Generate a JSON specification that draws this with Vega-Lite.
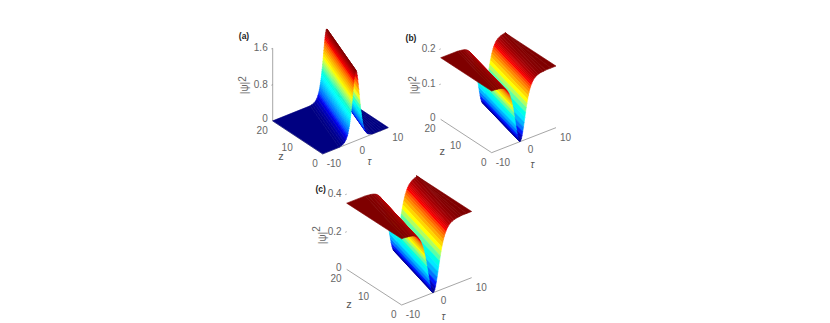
{
"$schema":"https://vega.github.io/schema/vega-lite/v6.json",
"width":830,"height":323,"padding":0,
"autosize":{"type":"fit","contains":"padding"},
"background":"white",
"config":{"view":{"stroke":null}},
"params":[{"name":"P","value":{
"a":{"ox":322.7,"oy":154,"tx":3.28,"ty":-1.315,"zx":-2.5,"zy":-1.65,"pz":45.4,"drift":6.4,"max":1.55},
"b":{"ox":491.67,"oy":152.67,"tx":3.217,"ty":-1.25,"zx":-2.55,"zy":-1.667,"pz":352,"drift":4.3,"max":0.175},
"c":{"ox":401.67,"oy":305,"tx":3.5,"ty":-1.367,"zx":-2.75,"zy":-1.783,"pz":188,"drift":4.6,"max":0.352}}}],
"datasets":{
"axes":[
{"panel":"a","t0":-10,"z0":0,"p0":0,"t1":10,"z1":0,"p1":0},
{"panel":"a","t0":-10,"z0":0,"p0":0,"t1":-10,"z1":20,"p1":0},
{"panel":"a","t0":-10,"z0":20,"p0":0,"t1":-10,"z1":20,"p1":1.6},
{"panel":"a","t0":-10,"z0":20,"p0":0.8,"t1":-10.4,"z1":20,"p1":0.8},
{"panel":"a","t0":-10,"z0":20,"p0":1.6,"t1":-10.4,"z1":20,"p1":1.6},
{"panel":"b","t0":-10,"z0":0,"p0":0,"t1":10,"z1":0,"p1":0},
{"panel":"b","t0":-10,"z0":0,"p0":0,"t1":-10,"z1":20,"p1":0},
{"panel":"b","t0":-10,"z0":20,"p0":0.1,"t1":-10.4,"z1":20,"p1":0.1},
{"panel":"b","t0":-10,"z0":20,"p0":0.2,"t1":-10.4,"z1":20,"p1":0.2},
{"panel":"c","t0":-10,"z0":0,"p0":0,"t1":10,"z1":0,"p1":0},
{"panel":"c","t0":-10,"z0":0,"p0":0,"t1":-10,"z1":20,"p1":0},
{"panel":"c","t0":-10,"z0":20,"p0":0.2,"t1":-10.4,"z1":20,"p1":0.2},
{"panel":"c","t0":-10,"z0":20,"p0":0.4,"t1":-10.4,"z1":20,"p1":0.4}
],
"surface":[
{"panel":"a","tau":10,"psi":0.003},{"panel":"a","tau":9.2,"psi":0.003},{"panel":"a","tau":8.4,"psi":0.003},{"panel":"a","tau":7.6,"psi":0.003},{"panel":"a","tau":6.8,"psi":0.003},{"panel":"a","tau":6,"psi":0.003},{"panel":"a","tau":5.2,"psi":0.003},
{"panel":"a","tau":4.6,"psi":0.015},{"panel":"a","tau":4,"psi":0.034},{"panel":"a","tau":3.55,"psi":0.061},{"panel":"a","tau":3.1,"psi":0.11},{"panel":"a","tau":2.8,"psi":0.161},{"panel":"a","tau":2.5,"psi":0.234},{"panel":"a","tau":2.2,"psi":0.335},{"panel":"a","tau":2.05,"psi":0.398},{"panel":"a","tau":1.9,"psi":0.473},{"panel":"a","tau":1.75,"psi":0.556},{"panel":"a","tau":1.6,"psi":0.651},{"panel":"a","tau":1.45,"psi":0.753},{"panel":"a","tau":1.3,"psi":0.866},{"panel":"a","tau":1.15,"psi":0.984},{"panel":"a","tau":1,"psi":1.104},{"panel":"a","tau":0.85,"psi":1.218},{"panel":"a","tau":0.7,"psi":1.327},{"panel":"a","tau":0.55,"psi":1.418},{"panel":"a","tau":0.4,"psi":1.49},{"panel":"a","tau":0.25,"psi":1.535},{"panel":"a","tau":0.1,"psi":1.55},
{"panel":"a","tau":0.025,"psi":1.546},{"panel":"a","tau":-0.05,"psi":1.535},{"panel":"a","tau":-0.125,"psi":1.516},{"panel":"a","tau":-0.2,"psi":1.49},{"panel":"a","tau":-0.275,"psi":1.455},{"panel":"a","tau":-0.35,"psi":1.418},{"panel":"a","tau":-0.425,"psi":1.375},{"panel":"a","tau":-0.5,"psi":1.327},{"panel":"a","tau":-0.575,"psi":1.274},{"panel":"a","tau":-0.65,"psi":1.218},{"panel":"a","tau":-0.725,"psi":1.161},{"panel":"a","tau":-0.8,"psi":1.104},{"panel":"a","tau":-0.875,"psi":1.045},{"panel":"a","tau":-0.95,"psi":0.984},{"panel":"a","tau":-1.025,"psi":0.925},{"panel":"a","tau":-1.1,"psi":0.866},{"panel":"a","tau":-1.175,"psi":0.809},{"panel":"a","tau":-1.25,"psi":0.753},{"panel":"a","tau":-1.325,"psi":0.7},{"panel":"a","tau":-1.4,"psi":0.651},{"panel":"a","tau":-1.475,"psi":0.603},{"panel":"a","tau":-1.55,"psi":0.556},{"panel":"a","tau":-1.625,"psi":0.513},{"panel":"a","tau":-1.7,"psi":0.473},{"panel":"a","tau":-1.775,"psi":0.434},{"panel":"a","tau":-1.85,"psi":0.398},{"panel":"a","tau":-1.925,"psi":0.366},{"panel":"a","tau":-2,"psi":0.335},{"panel":"a","tau":-2.15,"psi":0.281},{"panel":"a","tau":-2.3,"psi":0.234},{"panel":"a","tau":-2.45,"psi":0.194},{"panel":"a","tau":-2.6,"psi":0.161},{"panel":"a","tau":-2.9,"psi":0.11},{"panel":"a","tau":-3.35,"psi":0.061},{"panel":"a","tau":-3.8,"psi":0.034},{"panel":"a","tau":-4.4,"psi":0.015},
{"panel":"a","tau":-5,"psi":0.003},{"panel":"a","tau":-16.4,"psi":0.003},

{"panel":"b","tau":10,"psi":0.175},{"panel":"b","tau":8.4,"psi":0.175},{"panel":"b","tau":6.8,"psi":0.175},{"panel":"b","tau":6,"psi":0.174},{"panel":"b","tau":5.2,"psi":0.1733},{"panel":"b","tau":4.5,"psi":0.1716},{"panel":"b","tau":3.96,"psi":0.1693},{"panel":"b","tau":3.53,"psi":0.1665},{"panel":"b","tau":3.1,"psi":0.1626},{"panel":"b","tau":2.885,"psi":0.16},{"panel":"b","tau":2.67,"psi":0.1568},{"panel":"b","tau":2.455,"psi":0.1531},{"panel":"b","tau":2.24,"psi":0.1486},{"panel":"b","tau":2.025,"psi":0.1433},{"panel":"b","tau":1.81,"psi":0.1372},{"panel":"b","tau":1.595,"psi":0.13},{"panel":"b","tau":1.38,"psi":0.1216},{"panel":"b","tau":1.165,"psi":0.1122},{"panel":"b","tau":0.95,"psi":0.1015},{"panel":"b","tau":0.735,"psi":0.09},{"panel":"b","tau":0.52,"psi":0.0772},{"panel":"b","tau":0.305,"psi":0.0639},{"panel":"b","tau":0.09,"psi":0.0504},{"panel":"b","tau":-0.125,"psi":0.0375},{"panel":"b","tau":-0.34,"psi":0.0252},{"panel":"b","tau":-0.555,"psi":0.0149},{"panel":"b","tau":-0.77,"psi":0.0068},{"panel":"b","tau":-0.985,"psi":0.0018},{"panel":"b","tau":-1.2,"psi":0},
{"panel":"b","tau":-1.415,"psi":0.0018},{"panel":"b","tau":-1.63,"psi":0.0068},{"panel":"b","tau":-1.845,"psi":0.0149},{"panel":"b","tau":-2.06,"psi":0.0252},{"panel":"b","tau":-2.275,"psi":0.0375},{"panel":"b","tau":-2.49,"psi":0.0504},{"panel":"b","tau":-2.705,"psi":0.0639},{"panel":"b","tau":-2.92,"psi":0.0772},{"panel":"b","tau":-3.135,"psi":0.09},{"panel":"b","tau":-3.35,"psi":0.1015},{"panel":"b","tau":-3.565,"psi":0.1122},{"panel":"b","tau":-3.78,"psi":0.1216},{"panel":"b","tau":-3.995,"psi":0.13},{"panel":"b","tau":-4.21,"psi":0.1372},{"panel":"b","tau":-4.425,"psi":0.1433},{"panel":"b","tau":-4.64,"psi":0.1486},{"panel":"b","tau":-5.07,"psi":0.1568},{"panel":"b","tau":-5.5,"psi":0.1626},{"panel":"b","tau":-5.93,"psi":0.1665},{"panel":"b","tau":-6.36,"psi":0.1693},{"panel":"b","tau":-6.9,"psi":0.1716},{"panel":"b","tau":-7.65,"psi":0.1733},{"panel":"b","tau":-8.4,"psi":0.174},{"panel":"b","tau":-9.1,"psi":0.175},{"panel":"b","tau":-14.3,"psi":0.175},

{"panel":"c","tau":10,"psi":0.352},{"panel":"c","tau":8.6,"psi":0.352},{"panel":"c","tau":7.2,"psi":0.352},{"panel":"c","tau":6.54,"psi":0.3502},{"panel":"c","tau":5.75,"psi":0.3485},{"panel":"c","tau":4.96,"psi":0.345},{"panel":"c","tau":4.4,"psi":0.3406},{"panel":"c","tau":3.95,"psi":0.3351},{"panel":"c","tau":3.5,"psi":0.327},{"panel":"c","tau":3.275,"psi":0.3217},{"panel":"c","tau":3.05,"psi":0.3154},{"panel":"c","tau":2.825,"psi":0.308},{"panel":"c","tau":2.6,"psi":0.2988},{"panel":"c","tau":2.375,"psi":0.2883},{"panel":"c","tau":2.15,"psi":0.276},{"panel":"c","tau":1.925,"psi":0.2615},{"panel":"c","tau":1.7,"psi":0.2446},{"panel":"c","tau":1.475,"psi":0.2256},{"panel":"c","tau":1.25,"psi":0.2042},{"panel":"c","tau":1.025,"psi":0.1809},{"panel":"c","tau":0.8,"psi":0.1552},{"panel":"c","tau":0.575,"psi":0.1285},{"panel":"c","tau":0.35,"psi":0.1014},{"panel":"c","tau":0.125,"psi":0.0753},{"panel":"c","tau":-0.1,"psi":0.0507},{"panel":"c","tau":-0.325,"psi":0.0299},{"panel":"c","tau":-0.55,"psi":0.0137},{"panel":"c","tau":-0.775,"psi":0.0035},{"panel":"c","tau":-1,"psi":0},
{"panel":"c","tau":-1.225,"psi":0.0035},{"panel":"c","tau":-1.45,"psi":0.0137},{"panel":"c","tau":-1.675,"psi":0.0299},{"panel":"c","tau":-1.9,"psi":0.0507},{"panel":"c","tau":-2.125,"psi":0.0753},{"panel":"c","tau":-2.35,"psi":0.1014},{"panel":"c","tau":-2.575,"psi":0.1285},{"panel":"c","tau":-2.8,"psi":0.1552},{"panel":"c","tau":-3.025,"psi":0.1809},{"panel":"c","tau":-3.25,"psi":0.2042},{"panel":"c","tau":-3.475,"psi":0.2256},{"panel":"c","tau":-3.7,"psi":0.2446},{"panel":"c","tau":-3.925,"psi":0.2615},{"panel":"c","tau":-4.15,"psi":0.276},{"panel":"c","tau":-4.375,"psi":0.2883},{"panel":"c","tau":-4.6,"psi":0.2988},{"panel":"c","tau":-4.825,"psi":0.308},{"panel":"c","tau":-5.05,"psi":0.3154},{"panel":"c","tau":-5.275,"psi":0.3217},{"panel":"c","tau":-5.5,"psi":0.327},{"panel":"c","tau":-5.95,"psi":0.3351},{"panel":"c","tau":-6.4,"psi":0.3406},{"panel":"c","tau":-6.96,"psi":0.345},{"panel":"c","tau":-7.75,"psi":0.3485},{"panel":"c","tau":-8.54,"psi":0.3502},{"panel":"c","tau":-9.3,"psi":0.352},{"panel":"c","tau":-14.6,"psi":0.352}
],
"ticks":[
{"panel":"a","axis":"psi","tau":-10,"z":20,"psi":0.05,"label":"0"},{"panel":"a","axis":"psi","tau":-10,"z":20,"psi":0.8,"label":"0.8"},{"panel":"a","axis":"psi","tau":-10,"z":20,"psi":1.6,"label":"1.6"},
{"panel":"a","axis":"z","tau":-10,"z":0,"psi":0,"label":"0"},{"panel":"a","axis":"z","tau":-10,"z":10,"psi":0,"label":"10"},{"panel":"a","axis":"z","tau":-10,"z":20,"psi":0,"label":"20"},
{"panel":"a","axis":"tau","tau":-10,"z":0,"psi":0,"label":"-10"},{"panel":"a","axis":"tau","tau":0,"z":0,"psi":0,"label":"0"},{"panel":"a","axis":"tau","tau":10,"z":0,"psi":0,"label":"10"},
{"panel":"b","axis":"psi","tau":-10,"z":20,"psi":0.004,"label":"0"},{"panel":"b","axis":"psi","tau":-10,"z":20,"psi":0.1,"label":"0.1"},{"panel":"b","axis":"psi","tau":-10,"z":20,"psi":0.2,"label":"0.2"},
{"panel":"b","axis":"z","tau":-10,"z":0,"psi":0,"label":"0"},{"panel":"b","axis":"z","tau":-10,"z":10,"psi":0,"label":"10"},{"panel":"b","axis":"z","tau":-10,"z":20,"psi":0,"label":"20"},
{"panel":"b","axis":"tau","tau":-10,"z":0,"psi":0,"label":"-10"},{"panel":"b","axis":"tau","tau":0,"z":0,"psi":0,"label":"0"},{"panel":"b","axis":"tau","tau":10,"z":0,"psi":0,"label":"10"},
{"panel":"c","axis":"psi","tau":-10,"z":20,"psi":0.008,"label":"0"},{"panel":"c","axis":"psi","tau":-10,"z":20,"psi":0.2,"label":"0.2"},{"panel":"c","axis":"psi","tau":-10,"z":20,"psi":0.4,"label":"0.4"},
{"panel":"c","axis":"z","tau":-10,"z":0,"psi":0,"label":"0"},{"panel":"c","axis":"z","tau":-10,"z":10,"psi":0,"label":"10"},{"panel":"c","axis":"z","tau":-10,"z":20,"psi":0,"label":"20"},
{"panel":"c","axis":"tau","tau":-10,"z":0,"psi":0,"label":"-10"},{"panel":"c","axis":"tau","tau":0,"z":0,"psi":0,"label":"0"},{"panel":"c","axis":"tau","tau":10,"z":0,"psi":0,"label":"10"}
],
"titles":[
{"panel":"a","kind":"z","tau":-18.69,"z":5.29,"psi":0,"label":"z"},{"panel":"b","kind":"z","tau":-19.32,"z":7.58,"psi":0,"label":"z"},{"panel":"c","kind":"z","tau":-19.39,"z":7.2,"psi":0,"label":"z"},
{"panel":"a","kind":"tau","tau":-3.37,"z":-9.95,"psi":0,"label":"τ"},{"panel":"b","kind":"tau","tau":-5.75,"z":-10.57,"psi":0,"label":"τ"},{"panel":"c","kind":"tau","tau":-5.78,"z":-9.78,"psi":0,"label":"τ"},
{"panel":"a","kind":"bold","tau":-18.75,"z":20,"psi":2.13,"label":"(a)"},{"panel":"b","kind":"bold","tau":-19.22,"z":20,"psi":0.2645,"label":"(b)"},{"panel":"c","kind":"bold","tau":-17.43,"z":20,"psi":0.48,"label":"(c)"},
{"panel":"a","kind":"rot","tau":-18.54,"z":20,"psi":0.974,"label":"|ψ|"},{"panel":"a","kind":"rot","tau":-19.15,"z":20,"psi":1.19,"label":"2"},
{"panel":"b","kind":"rot","tau":-17.98,"z":20,"psi":0.1173,"label":"|ψ|"},{"panel":"b","kind":"rot","tau":-18.6,"z":20,"psi":0.145,"label":"2"},
{"panel":"c","kind":"rot","tau":-16.76,"z":20,"psi":0.2157,"label":"|ψ|"},{"panel":"c","kind":"rot","tau":-18.48,"z":20,"psi":0.276,"label":"2"}
]
},
"layer":[
{"data":{"name":"axes"},
"transform":[
{"calculate":"P[datum.panel].ox+P[datum.panel].tx*(datum.t0+10)+P[datum.panel].zx*datum.z0","as":"sx0"},
{"calculate":"P[datum.panel].oy+P[datum.panel].ty*(datum.t0+10)+P[datum.panel].zy*datum.z0-P[datum.panel].pz*datum.p0","as":"sy0"},
{"calculate":"P[datum.panel].ox+P[datum.panel].tx*(datum.t1+10)+P[datum.panel].zx*datum.z1","as":"sx1"},
{"calculate":"P[datum.panel].oy+P[datum.panel].ty*(datum.t1+10)+P[datum.panel].zy*datum.z1-P[datum.panel].pz*datum.p1","as":"sy1"}],
"mark":{"type":"rule","color":"#808080","strokeWidth":0.7},
"encoding":{
"x":{"field":"sx0","type":"quantitative","scale":{"domain":[0,830],"nice":false,"zero":false},"axis":null},
"y":{"field":"sy0","type":"quantitative","scale":{"domain":[323,0],"nice":false,"zero":false},"axis":null},
"x2":{"field":"sx1"},"y2":{"field":"sy1"}}},
{"data":{"name":"surface"},
"transform":[
{"window":[{"op":"lag","field":"tau","as":"ptau"},{"op":"lag","field":"psi","as":"ppsi"},{"op":"row_number","as":"rn"}],"groupby":["panel"]},
{"filter":"isValid(datum.ptau)"},
{"calculate":"datum.panel+datum.rn","as":"quad"},
{"calculate":"(datum.psi+datum.ppsi)/2/P[datum.panel].max","as":"level"},
{"calculate":"[0,1,2,3]","as":"corner"},
{"flatten":["corner"]},
{"calculate":"datum.corner<=1?datum.tau:datum.ptau","as":"qt"},
{"calculate":"datum.corner<=1?datum.psi:datum.ppsi","as":"qp"},
{"calculate":"(datum.corner==0||datum.corner==3)?0:20","as":"qz"},
{"calculate":"clamp(datum.qz==0?datum.qt:datum.qt+P[datum.panel].drift,-10,10)","as":"qtau"},
{"calculate":"P[datum.panel].ox+P[datum.panel].tx*(datum.qtau+10)+P[datum.panel].zx*datum.qz","as":"sx"},
{"calculate":"P[datum.panel].oy+P[datum.panel].ty*(datum.qtau+10)+P[datum.panel].zy*datum.qz-P[datum.panel].pz*datum.qp","as":"sy"}],
"mark":{"type":"line","interpolate":"linear-closed","filled":true,"strokeWidth":0.6,"strokeJoin":"round"},
"encoding":{
"x":{"field":"sx","type":"quantitative","axis":null},
"y":{"field":"sy","type":"quantitative","axis":null},
"detail":{"field":"quad"},
"order":{"field":"corner","type":"quantitative"},
"fill":{"field":"level","type":"quantitative","legend":null,"scale":{"domain":[0,0.11,0.36,0.61,0.86,1],"range":["#00007f","#0000ff","#00ffff","#ffff00","#ff0000","#7f0000"]}},
"stroke":{"field":"level","type":"quantitative","legend":null,"scale":{"domain":[0,0.11,0.36,0.61,0.86,1],"range":["#00007f","#0000ff","#00ffff","#ffff00","#ff0000","#7f0000"]}}}},
{"data":{"name":"ticks"},
"transform":[{"filter":"datum.axis=='psi'"},
{"calculate":"P[datum.panel].ox+P[datum.panel].tx*(datum.tau+10)+P[datum.panel].zx*datum.z","as":"sx"},
{"calculate":"P[datum.panel].oy+P[datum.panel].ty*(datum.tau+10)+P[datum.panel].zy*datum.z-P[datum.panel].pz*datum.psi","as":"sy"}],
"mark":{"type":"text","font":"Liberation Sans","fontSize":10,"color":"#666666","align":"right","baseline":"middle","dx":-5},
"encoding":{"x":{"field":"sx","type":"quantitative","axis":null},"y":{"field":"sy","type":"quantitative","axis":null},"text":{"field":"label"}}},
{"data":{"name":"ticks"},
"transform":[{"filter":"datum.axis=='z'"},
{"calculate":"P[datum.panel].ox+P[datum.panel].tx*(datum.tau+10)+P[datum.panel].zx*datum.z","as":"sx"},
{"calculate":"P[datum.panel].oy+P[datum.panel].ty*(datum.tau+10)+P[datum.panel].zy*datum.z-P[datum.panel].pz*datum.psi","as":"sy"}],
"mark":{"type":"text","font":"Liberation Sans","fontSize":10,"color":"#666666","align":"right","baseline":"middle","dx":-5,"dy":10},
"encoding":{"x":{"field":"sx","type":"quantitative","axis":null},"y":{"field":"sy","type":"quantitative","axis":null},"text":{"field":"label"}}},
{"data":{"name":"ticks"},
"transform":[{"filter":"datum.axis=='tau'"},
{"calculate":"P[datum.panel].ox+P[datum.panel].tx*(datum.tau+10)+P[datum.panel].zx*datum.z","as":"sx"},
{"calculate":"P[datum.panel].oy+P[datum.panel].ty*(datum.tau+10)+P[datum.panel].zy*datum.z-P[datum.panel].pz*datum.psi","as":"sy"}],
"mark":{"type":"text","font":"Liberation Sans","fontSize":10,"color":"#666666","align":"left","baseline":"middle","dx":4,"dy":10},
"encoding":{"x":{"field":"sx","type":"quantitative","axis":null},"y":{"field":"sy","type":"quantitative","axis":null},"text":{"field":"label"}}},
{"data":{"name":"titles"},
"transform":[{"filter":"datum.kind=='z'"},
{"calculate":"P[datum.panel].ox+P[datum.panel].tx*(datum.tau+10)+P[datum.panel].zx*datum.z","as":"sx"},
{"calculate":"P[datum.panel].oy+P[datum.panel].ty*(datum.tau+10)+P[datum.panel].zy*datum.z-P[datum.panel].pz*datum.psi","as":"sy"}],
"mark":{"type":"text","font":"Liberation Sans","fontSize":11,"color":"#555555","align":"center","baseline":"middle"},
"encoding":{"x":{"field":"sx","type":"quantitative","axis":null},"y":{"field":"sy","type":"quantitative","axis":null},"text":{"field":"label"}}},
{"data":{"name":"titles"},
"transform":[{"filter":"datum.kind=='tau'"},
{"calculate":"P[datum.panel].ox+P[datum.panel].tx*(datum.tau+10)+P[datum.panel].zx*datum.z","as":"sx"},
{"calculate":"P[datum.panel].oy+P[datum.panel].ty*(datum.tau+10)+P[datum.panel].zy*datum.z-P[datum.panel].pz*datum.psi","as":"sy"}],
"mark":{"type":"text","font":"Liberation Sans","fontSize":10,"fontStyle":"italic","color":"#555555","align":"center","baseline":"middle"},
"encoding":{"x":{"field":"sx","type":"quantitative","axis":null},"y":{"field":"sy","type":"quantitative","axis":null},"text":{"field":"label"}}},
{"data":{"name":"titles"},
"transform":[{"filter":"datum.kind=='bold'"},
{"calculate":"P[datum.panel].ox+P[datum.panel].tx*(datum.tau+10)+P[datum.panel].zx*datum.z","as":"sx"},
{"calculate":"P[datum.panel].oy+P[datum.panel].ty*(datum.tau+10)+P[datum.panel].zy*datum.z-P[datum.panel].pz*datum.psi","as":"sy"}],
"mark":{"type":"text","font":"Liberation Sans","fontSize":8.5,"fontWeight":"bold","color":"#222222","align":"center","baseline":"middle"},
"encoding":{"x":{"field":"sx","type":"quantitative","axis":null},"y":{"field":"sy","type":"quantitative","axis":null},"text":{"field":"label"}}},
{"data":{"name":"titles"},
"transform":[{"filter":"datum.kind=='rot'"},
{"calculate":"P[datum.panel].ox+P[datum.panel].tx*(datum.tau+10)+P[datum.panel].zx*datum.z","as":"sx"},
{"calculate":"P[datum.panel].oy+P[datum.panel].ty*(datum.tau+10)+P[datum.panel].zy*datum.z-P[datum.panel].pz*datum.psi","as":"sy"}],
"mark":{"type":"text","font":"Liberation Sans","fontSize":10,"color":"#666666","align":"center","baseline":"middle","angle":270},
"encoding":{"x":{"field":"sx","type":"quantitative","axis":null},"y":{"field":"sy","type":"quantitative","axis":null},"text":{"field":"label"}}}
]
}
